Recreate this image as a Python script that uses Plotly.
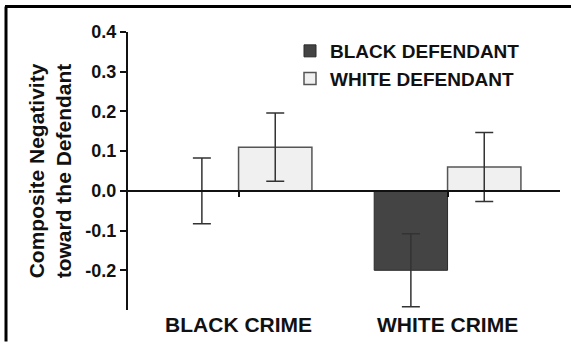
import plotly.graph_objects as go

categories = ["BLACK CRIME", "WHITE CRIME"]
series_names = ["BLACK DEFENDANT", "WHITE DEFENDANT"]
black_def = [0.0, -0.20]
black_err = [0.083, 0.092]
white_def = [0.11, 0.06]
white_err = [0.086, 0.087]
y_ticks = [0.4, 0.3, 0.2, 0.1, 0.0, -0.1, -0.2]
y_ticktext = ["0.4", "0.3", "0.2", "0.1", "0.0", "-0.1", "-0.2"]

FONT = "Liberation Sans, Arial, sans-serif"
W, H = 571, 347
L, R, T, B = 128, 11, 32, 32
ymin, ymax = -0.3, 0.4
xmin, xmax = -0.529, 1.538

fig = go.Figure()
fig.add_trace(go.Bar(
    x=categories, y=black_def, name=series_names[0],
    marker=dict(color="#444444", line=dict(color="#2a2a2a", width=1)),
    error_y=dict(type="data", array=black_err, color="#333333", thickness=1.5, width=9),
))
fig.add_trace(go.Bar(
    x=categories, y=white_def, name=series_names[1],
    marker=dict(color="#f0f0f0", line=dict(color="#555555", width=1.5)),
    error_y=dict(type="data", array=white_err, color="#333333", thickness=1.5, width=9),
))
# invisible helper trace for the label axis
fig.add_trace(go.Scatter(x=[0, 1], y=[0, 0], xaxis="x2", mode="markers",
                         marker=dict(opacity=0), showlegend=False, hoverinfo="skip"))

pw = W - L - R
ph = H - T - B


def px_x(p):
    return (p - L) / pw


def px_y(p):
    return (H - B - p) / ph


fig.update_layout(
    width=W, height=H,
    margin=dict(l=L, r=R, t=T, b=B),
    paper_bgcolor="white", plot_bgcolor="white",
    font=dict(family=FONT, color="#111111", weight="bold"),
    barmode="group", bargap=0.298, bargroupgap=0,
    showlegend=True,
    legend=dict(x=px_x(290), y=px_y(32), xanchor="left", yanchor="top",
                font=dict(size=19, family=FONT, weight="bold", color="#111111"),
                bgcolor="rgba(0,0,0,0)"),
    xaxis=dict(type="category", range=[xmin, xmax], anchor="free",
               position=(0 - ymin) / (ymax - ymin),
               showline=True, linecolor="#111111", linewidth=2,
               ticks="outside", ticklen=5, tickwidth=2, tickcolor="#111111",
               showticklabels=False, showgrid=False, zeroline=False, fixedrange=True),
    xaxis2=dict(type="linear", range=[xmin, xmax], overlaying="x", anchor="free", position=0,
                tickvals=[0, 1], ticktext=categories, showline=False, ticks="",
                showgrid=False, zeroline=False,
                tickfont=dict(size=21, family=FONT, weight="bold", color="#111111")),
    yaxis=dict(range=[ymin, ymax], tickvals=y_ticks, ticktext=y_ticktext,
               showline=True, linecolor="#111111", linewidth=2,
               ticks="outside", ticklen=6, tickwidth=2, tickcolor="#111111",
               showgrid=False, zeroline=False,
               tickfont=dict(size=18, family=FONT, weight="bold", color="#111111"),
               title=dict(text="Composite Negativity<br>toward the Defendant",
                          font=dict(size=21, family=FONT, weight="bold", color="#111111"),
                          standoff=8)),
    shapes=[
        dict(type="line", xref="paper", yref="paper",
             x0=px_x(6), x1=px_x(6), y0=px_y(H), y1=px_y(6),
             line=dict(color="black", width=3), layer="above"),
        dict(type="line", xref="paper", yref="paper",
             x0=px_x(5), x1=px_x(W), y0=px_y(6), y1=px_y(6),
             line=dict(color="black", width=3), layer="above"),
    ],
)

fig.write_html(
    "out.html", config={"displayModeBar": False},
    post_script=("document.body.style.margin='0px';"
                 "document.documentElement.style.overflow='hidden';"
                 "window.scrollTo(0,0);"),
)
